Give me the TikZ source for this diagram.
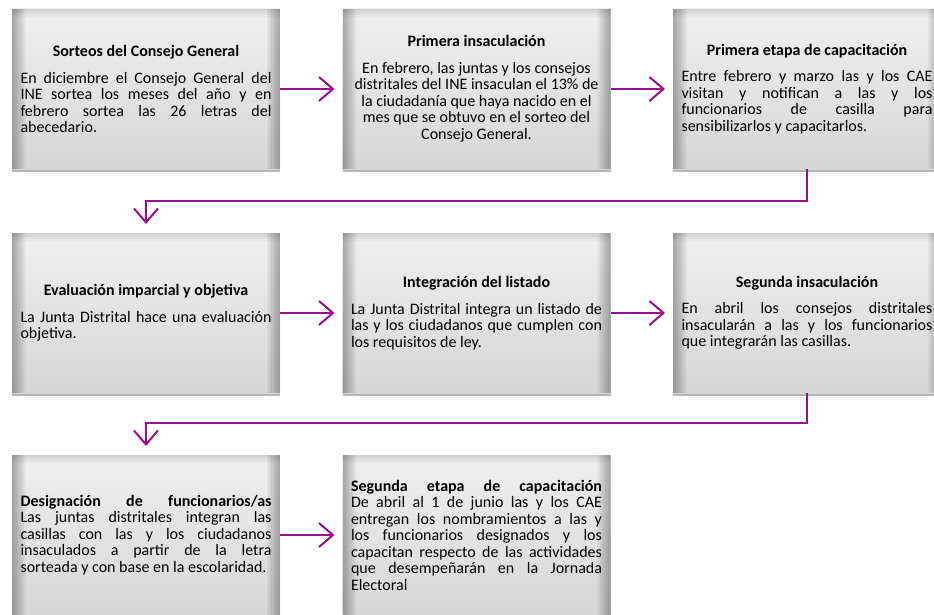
\documentclass[tikz,border=0pt]{standalone}
\usepackage{fontspec}
\setmainfont{Carlito}
\usetikzlibrary{arrows.meta,shadows}
\definecolor{mag}{RGB}{156,12,140}
\newcommand\jline[1]{\hbox to\hsize{#1}}
\newcommand\nline[1]{\hbox{#1}}
\newcommand\ctrline[1]{\hbox to\hsize{\hfil#1\hfil}}
\newcommand\ttline[1]{\ctrline{\bfseries #1}\vskip 10pt}
\newcommand\cardtext[1]{\vbox{\hsize=251pt\fontsize{16}{16.5}\selectfont #1}}
\tikzset{
  card/.style={minimum width=268pt, minimum height=160pt, inner sep=0pt, outer sep=0pt,
    top color=gray!12, middle color=gray!3, bottom color=gray!32,
    drop shadow={shadow xshift=0pt, shadow yshift=-3pt, opacity=.4, fill=black!70},
    path picture={
      \foreach \w in {1.5,3,...,13.5}{
        \fill[black,opacity=.035] (path picture bounding box.north west) rectangle ([xshift=\w pt]path picture bounding box.south west);
        \fill[black,opacity=.035] (path picture bounding box.north east) rectangle ([xshift=-\w pt]path picture bounding box.south east);
      }
      \foreach \w in {2,4,6,8}{
        \fill[black,opacity=.03] (path picture bounding box.north west) rectangle ([yshift=-\w pt]path picture bounding box.north east);
      }
    }},
  conn/.style={draw=mag, line width=2pt, -{Straight Barb[length=14pt,width=24pt]}, shorten >=8pt}
}
\begin{document}
\begin{tikzpicture}[x=1pt,y=-1pt]
\useasboundingbox (0,0) rectangle (934,615);
\clip (0,0) rectangle (934,615);
\node[card] (b1) at (146,89) {\cardtext{\ttline{Sorteos del Consejo General}
\jline{En diciembre el Consejo General del}
\jline{INE sortea los meses del año y en}
\jline{febrero sortea las 26 letras del}
\nline{abecedario.}}};
\node[card] (b2) at (476.5,89) {\cardtext{\ttline{Primera insaculación}
\ctrline{En febrero, las juntas y los consejos}
\ctrline{distritales del INE insaculan el 13\% de}
\ctrline{la ciudadanía que haya nacido en el}
\ctrline{mes que se obtuvo en el sorteo del}
\ctrline{Consejo General.}}};
\node[card] (b3) at (807,89) {\cardtext{\ttline{Primera etapa de capacitación}
\jline{Entre febrero y marzo las y los CAE}
\jline{visitan y notifican a las y los}
\jline{funcionarios de casilla para}
\nline{sensibilizarlos y capacitarlos.}}};
\node[card] (b4) at (146,313) {\cardtext{\ttline{Evaluación imparcial y objetiva}
\jline{La Junta Distrital hace una evaluación}
\nline{objetiva.}}};
\node[card] (b5) at (476.5,313) {\cardtext{\ttline{Integración del listado}
\jline{La Junta Distrital integra un listado de}
\jline{las y los ciudadanos que cumplen con}
\nline{los requisitos de ley.}}};
\node[card] (b6) at (807,313) {\cardtext{\ttline{Segunda insaculación}
\jline{En abril los consejos distritales}
\jline{insacularán a las y los funcionarios}
\nline{que integrarán las casillas.}}};
\node[card] (b7) at (146,535) {\cardtext{\jline{\bfseries Designación de funcionarios/as}
\jline{Las juntas distritales integran las}
\jline{casillas con las y los ciudadanos}
\jline{insaculados a partir de la letra}
\nline{sorteada y con base en la escolaridad.}}};
\node[card] (b8) at (476.5,535) {\cardtext{\jline{\bfseries Segunda etapa de capacitación}
\jline{De abril al 1 de junio las y los CAE}
\jline{entregan los nombramientos a las y}
\jline{los funcionarios designados y los}
\jline{capacitan respecto de las actividades}
\jline{que desempeñarán en la Jornada}
\nline{Electoral}}};
\draw[conn] (b1.east) -- (b2.west);
\draw[conn] (b2.east) -- (b3.west);
\draw[conn, shorten >=9pt] (b3.south) -- ++(0,32) -| (b4.north);
\draw[conn] (b4.east) -- (b5.west);
\draw[conn] (b5.east) -- (b6.west);
\draw[conn, shorten >=9pt] (b6.south) -- ++(0,30) -| (b7.north);
\draw[conn] (b7.east) -- (b8.west);
\end{tikzpicture}
\end{document}
